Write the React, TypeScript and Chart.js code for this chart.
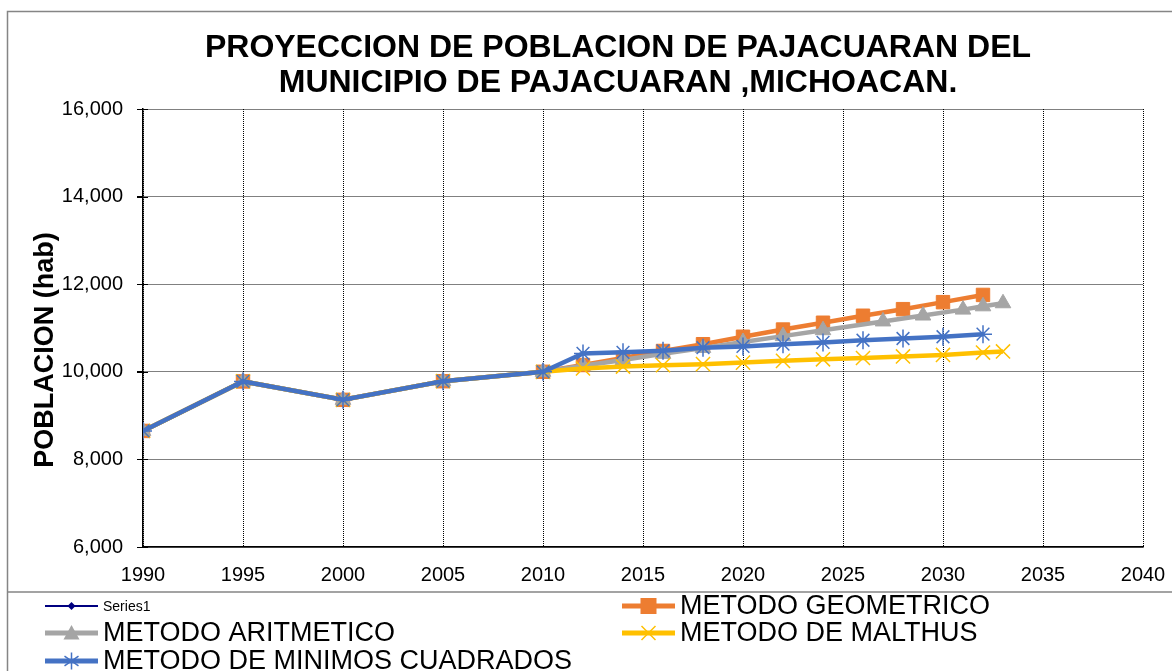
import React, { useEffect, useRef } from "react";
import { Chart, registerables } from "chart.js";

Chart.register(...registerables);

const TITLE_LINES = [
  "PROYECCION DE POBLACION DE PAJACUARAN DEL",
  "MUNICIPIO DE PAJACUARAN ,MICHOACAN.",
];
const Y_TITLE = "POBLACION (hab)";

const histYears = [1990, 1995, 2000, 2005, 2010];
const histPop = [8650, 9780, 9360, 9785, 10000];

const geoYears = [2012, 2014, 2016, 2018, 2020, 2022, 2024, 2026, 2028, 2030, 2032];
const geoPop = [10155, 10315, 10475, 10630, 10800, 10965, 11120, 11280, 11430, 11590, 11755];

const aritYears = [2012, 2014, 2016, 2018, 2020, 2022, 2024, 2027, 2029, 2031, 2032, 2033];
const aritPop = [10140, 10270, 10410, 10545, 10680, 10815, 10950, 11150, 11285, 11420, 11495, 11565];

const malYears = [2012, 2014, 2016, 2018, 2020, 2022, 2024, 2026, 2028, 2030, 2032, 2033];
const malPop = [10075, 10120, 10150, 10175, 10210, 10250, 10285, 10315, 10350, 10385, 10440, 10465];

const mcYears = [2012, 2014, 2016, 2018, 2020, 2022, 2024, 2026, 2028, 2030, 2032];
const mcPop = [10420, 10445, 10480, 10550, 10580, 10630, 10670, 10720, 10760, 10800, 10860];

const FONT = "'Liberation Sans', Arial, sans-serif";

const pts = (xs: number[], ys: number[]) => xs.map((x, i) => ({ x, y: ys[i] }));
const withHist = (xs: number[], ys: number[]) => [...pts(histYears, histPop), ...pts(xs, ys)];

type LegendItem = {
  text: string;
  color: string;
  lw: number;
  marker: string;
  size: number;
  col: number;
  row: number;
  font: number;
};

const legendItems: LegendItem[] = [
  { text: "Series1", color: "#000080", lw: 2, marker: "diamond", size: 4, col: 0, row: 0, font: 14 },
  { text: "METODO GEOMETRICO", color: "#ED7D31", lw: 5, marker: "square", size: 8, col: 1, row: 0, font: 27 },
  { text: "METODO ARITMETICO", color: "#A5A5A5", lw: 5, marker: "triangle", size: 8, col: 0, row: 1, font: 27 },
  { text: "METODO DE MALTHUS", color: "#FFC000", lw: 5, marker: "x", size: 7, col: 1, row: 1, font: 27 },
  { text: "METODO DE MINIMOS CUADRADOS", color: "#4472C4", lw: 5, marker: "star", size: 7, col: 0, row: 2, font: 27 },
];

function drawMarker(ctx: CanvasRenderingContext2D, kind: string, x: number, y: number, s: number, color: string) {
  ctx.save();
  ctx.fillStyle = color;
  ctx.strokeStyle = color;
  ctx.lineWidth = 1.5;
  ctx.beginPath();
  if (kind === "square") {
    ctx.rect(x - s, y - s, 2 * s, 2 * s);
    ctx.fill();
  } else if (kind === "diamond") {
    ctx.moveTo(x, y - s);
    ctx.lineTo(x + s, y);
    ctx.lineTo(x, y + s);
    ctx.lineTo(x - s, y);
    ctx.closePath();
    ctx.fill();
  } else if (kind === "triangle") {
    ctx.moveTo(x, y - s);
    ctx.lineTo(x + s, y + s * 0.8);
    ctx.lineTo(x - s, y + s * 0.8);
    ctx.closePath();
    ctx.fill();
  } else if (kind === "x") {
    ctx.moveTo(x - s, y - s);
    ctx.lineTo(x + s, y + s);
    ctx.moveTo(x + s, y - s);
    ctx.lineTo(x - s, y + s);
    ctx.stroke();
  } else if (kind === "star") {
    ctx.moveTo(x, y - s * 1.2);
    ctx.lineTo(x, y + s * 1.2);
    ctx.moveTo(x - s, y - s * 0.7);
    ctx.lineTo(x + s, y + s * 0.7);
    ctx.moveTo(x + s, y - s * 0.7);
    ctx.lineTo(x - s, y + s * 0.7);
    ctx.stroke();
  }
  ctx.restore();
}

const decorPlugin = {
  id: "decor",
  afterDraw(chart: any) {
    const ctx: CanvasRenderingContext2D = chart.ctx;
    const area = chart.chartArea;
    ctx.save();
    // outer frame and legend frame
    ctx.strokeStyle = "#858585";
    ctx.lineWidth = 1.5;
    ctx.strokeRect(7.5, 11.5, 1300, 800);
    ctx.beginPath();
    ctx.moveTo(7.5, 592);
    ctx.lineTo(1172, 592);
    ctx.stroke();

    // y tick marks crossing the axis
    const yScale = chart.scales.y;
    ctx.strokeStyle = "#000";
    ctx.lineWidth = 1;
    yScale.ticks.forEach((t: any) => {
      const py = Math.round(yScale.getPixelForValue(t.value)) + 0.5;
      ctx.beginPath();
      ctx.moveTo(area.left - 6, py);
      ctx.lineTo(area.left + 5, py);
      ctx.stroke();
    });

    // title
    ctx.fillStyle = "#000";
    ctx.font = `bold 32px ${FONT}`;
    ctx.textAlign = "center";
    ctx.textBaseline = "alphabetic";
    ctx.fillText(TITLE_LINES[0], 618, 57);
    ctx.fillText(TITLE_LINES[1], 618, 92);

    // y axis title
    ctx.save();
    ctx.translate(53, 350);
    ctx.rotate(-Math.PI / 2);
    ctx.font = `bold 27px ${FONT}`;
    ctx.fillText(Y_TITLE, 0, 0);
    ctx.restore();

    // legend
    const colX = [45, 622];
    const rowY = [606, 633, 661];
    legendItems.forEach((it) => {
      const x0 = colX[it.col];
      const y = rowY[it.row];
      ctx.save();
      ctx.strokeStyle = it.color;
      ctx.lineWidth = it.lw;
      ctx.beginPath();
      ctx.moveTo(x0, y);
      ctx.lineTo(x0 + 53, y);
      ctx.stroke();
      ctx.restore();
      drawMarker(ctx, it.marker, x0 + 26.5, y, it.size, it.color);
      ctx.fillStyle = "#000";
      ctx.font = `${it.font}px ${FONT}`;
      ctx.textAlign = "left";
      ctx.textBaseline = "middle";
      ctx.fillText(it.text, x0 + 58, y + 1);
    });
    ctx.restore();
  },
};

export default function App() {
  const ref = useRef<HTMLCanvasElement>(null);
  useEffect(() => {
    document.body.style.margin = "0";
    const canvas = ref.current!;
    const chart = new Chart(canvas, {
      type: "line",
      data: {
        datasets: [
          {
            label: "Series1",
            data: pts(histYears, histPop),
            borderColor: "#000080",
            backgroundColor: "#000080",
            borderWidth: 2,
            pointStyle: "rectRot",
            pointRadius: 4,
            order: 5,
          },
          {
            label: "METODO GEOMETRICO",
            data: withHist(geoYears, geoPop),
            borderColor: "#ED7D31",
            backgroundColor: "#ED7D31",
            borderWidth: 4.5,
            pointStyle: "rect",
            pointRadius: 9.5,
            pointBorderWidth: 1,
            order: 4,
          },
          {
            label: "METODO ARITMETICO",
            data: withHist(aritYears, aritPop),
            borderColor: "#A5A5A5",
            backgroundColor: "#A5A5A5",
            borderWidth: 4.5,
            pointStyle: "triangle",
            pointRadius: 9,
            pointBorderWidth: 1,
            order: 3,
          },
          {
            label: "METODO DE MALTHUS",
            data: withHist(malYears, malPop),
            borderColor: "#FFC000",
            backgroundColor: "#FFC000",
            borderWidth: 4.5,
            pointStyle: "crossRot",
            pointRadius: 10,
            pointBorderWidth: 1.5,
            order: 2,
          },
          {
            label: "METODO DE MINIMOS CUADRADOS",
            data: withHist(mcYears, mcPop),
            borderColor: "#4472C4",
            backgroundColor: "#4472C4",
            borderWidth: 4.5,
            pointStyle: "star",
            pointRadius: 9,
            pointBorderWidth: 1.5,
            order: 1,
          },
        ],
      },
      options: {
        responsive: false,
        animation: false,
        layout: { padding: { top: 109, left: 0, right: 29, bottom: 0 } },
        plugins: {
          legend: { display: false },
          title: { display: false },
          tooltip: { enabled: false },
        },
        scales: {
          x: {
            type: "linear",
            min: 1990,
            max: 2040,
            ticks: {
              stepSize: 5,
              color: "#000",
              font: { family: FONT, size: 20 },
              padding: 16,
              maxRotation: 0,
              callback: (v: any) => String(v),
            },
            grid: { color: "#000", lineWidth: 1, drawTicks: false },
            border: { display: true, color: "#000", width: 1.5, dash: [1, 1] },
            afterFit: (s: any) => {
              s.height = 124;
              s.paddingLeft = 0;
              s.paddingRight = 0;
            },
          },
          y: {
            min: 6000,
            max: 16000,
            ticks: {
              stepSize: 2000,
              color: "#000",
              font: { family: FONT, size: 20 },
              padding: 14,
              callback: (v: any) => Number(v).toLocaleString("en-US"),
            },
            grid: { color: "#000", lineWidth: 1, drawTicks: true, tickLength: 6, tickColor: "#000" },
            border: { display: true, color: "#000", width: 1.5, dash: [1, 1] },
            afterFit: (s: any) => {
              s.width = 143;
              s.paddingTop = 0;
              s.paddingBottom = 0;
            },
          },
        },
      },
      plugins: [decorPlugin],
    });
    return () => chart.destroy();
  }, []);
  return <canvas ref={ref} width={1172} height={671} style={{ display: "block" }} />;
}
